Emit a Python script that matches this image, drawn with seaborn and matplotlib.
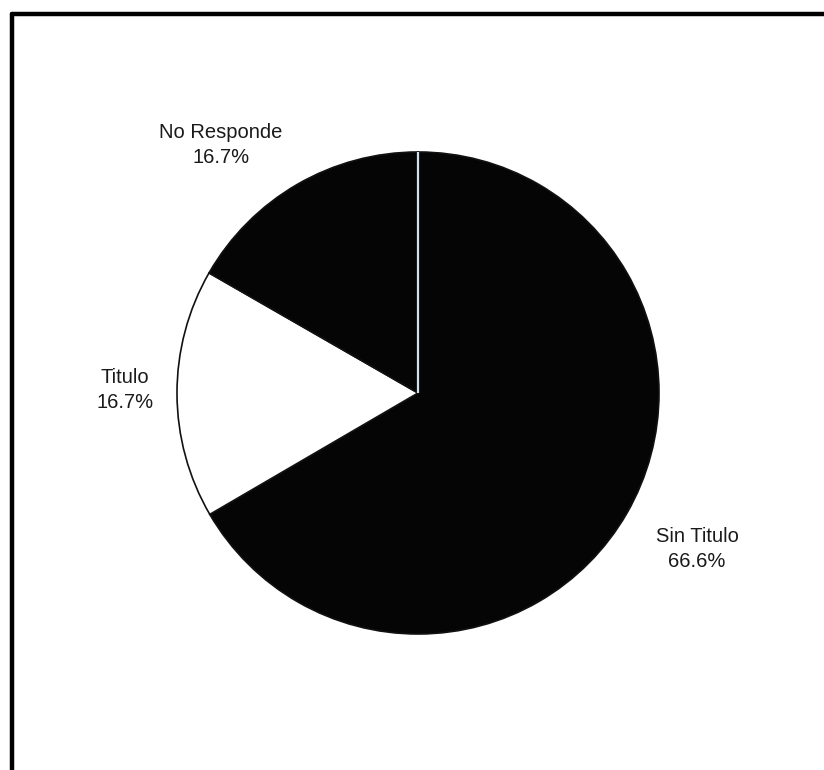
import seaborn as sns
import matplotlib.pyplot as plt
import numpy as np

# values
labels = ["Sin Titulo", "Titulo", "No Responde"]
shares = [66.6, 16.7, 16.7]
colors = ["#050505", "#ffffff", "#050505"]
pct_text = ["66.6%", "16.7%", "16.7%"]

sns.set_theme(style="white")
plt.rcParams["font.family"] = ["Liberation Sans", "DejaVu Sans"]

W, H = 824, 770
fig = plt.figure(figsize=(W / 100, H / 100), dpi=100)
ax = fig.add_axes([0, 0, 1, 1])

# pie in pixel coordinates (y measured from the bottom)
cx, cy, r = 418, H - 393, 241
start = 90
wedges, _ = ax.pie(shares, colors=colors, startangle=start, counterclock=False,
                   center=(cx, cy), radius=r, frame=True,
                   wedgeprops=dict(edgecolor="#111111", linewidth=1.2))

# light separator line between Sin Titulo and No Responde
a = np.deg2rad(start)
ax.plot([cx, cx + r * np.cos(a)], [cy, cy + r * np.sin(a)],
        color="#cfe0ee", lw=1.6, solid_capstyle="butt")

# outside labels
label_pos = {"Sin Titulo": (697, H - 549), "Titulo": (125, H - 390),
             "No Responde": (221, H - 145)}
for name, pct in zip(labels, pct_text):
    x, y = label_pos[name]
    ax.text(x, y, f"{name}\n{pct}", ha="center", va="center",
            fontsize=14.5, color="#1a1a1a", linespacing=1.35)

# frame of the scanned page (top and left edges visible)
ax.plot([12, W], [H - 14, H - 14], color="black", lw=3.2)
ax.plot([12, 12], [H - 14, 0], color="black", lw=3.2)

ax.set_xlim(0, W)
ax.set_ylim(0, H)
ax.set_aspect("equal")
ax.axis("off")

fig.savefig("out.png", dpi=100, facecolor="white")
